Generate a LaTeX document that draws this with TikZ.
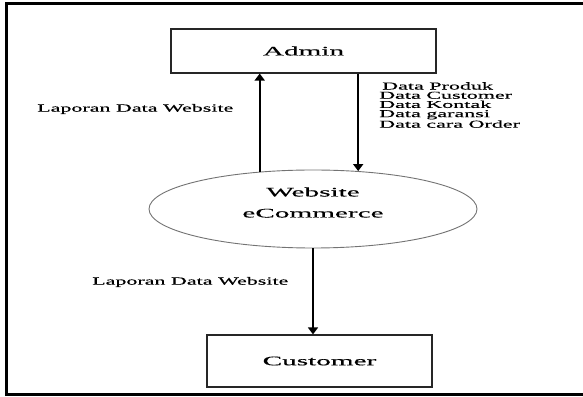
\documentclass[tikz,border=0pt]{standalone}
\usepackage{fontspec}
\usepackage{xcolor}
\usepackage{tikz}
\setmainfont{Liberation Serif}
\newfontfamily\smallfont{Liberation Serif}[FakeStretch=2.1, FakeBold=0.4]
\newfontfamily\reportfont{Liberation Serif}[FakeStretch=2.0, FakeBold=0.4]
\newfontfamily\bigfont{Liberation Serif}[FakeStretch=2.25, FakeBold=0.4]
\usetikzlibrary{shapes,arrows,positioning,calc,arrows.meta}

\begin{document}
\begin{tikzpicture}[x=1pt, y=1pt,
    entity/.style={draw=black!85, line width=1.1pt, rectangle, inner sep=0pt, font=\bigfont\fontsize{13}{15}\selectfont},
    site/.style={draw=black!55, line width=0.9pt, ellipse, inner sep=0pt, minimum width=328pt, minimum height=78pt},
    flow/.style={-{Triangle[length=7pt, width=10pt]}, line width=1.6pt},
    lbl/.style={font=\smallfont\fontsize{10.5}{9.2}\selectfont, inner sep=0pt},
    report/.style={font=\reportfont\fontsize{11}{13}\selectfont, inner sep=0pt}]
    \useasboundingbox (0,0) rectangle (583,396);
    % Frame
    \draw[line width=2.8pt] (6.5,392.5) rectangle (586,1.5);

    % Admin
    \node[entity, minimum width=265pt, minimum height=44pt] (admin) at (303.5,345) {Admin};

    % Website
    \node[site, label={[yshift=6.5pt, align=center, font=\bigfont\fontsize{13}{21}\selectfont]center:Website\\eCommerce}] (web) at (313,187) {};

    % Customer
    \node[entity, minimum width=225pt, minimum height=52pt] (cust) at (319.5,35) {Customer};

    % Flows
    \draw[flow] (web.145) -- (web.145 |- admin.south);
    \draw[flow] (web.40 |- admin.south) -- (web.40);
    \draw[flow] (web.south) -- (web.south |- cust.north);

    % Labels
    \node[report, anchor=west] (rep1) at (37,287) {Laporan Data Website};
    \node[lbl, anchor=west, align=left] (data) at (379,291) {\hspace{3pt}Data Produk\\Data Customer\\Data Kontak\\Data garansi\\Data cara Order};
    \node[report, anchor=west] (rep2) at (92,114) {Laporan Data Website};
\end{tikzpicture}
\end{document}
